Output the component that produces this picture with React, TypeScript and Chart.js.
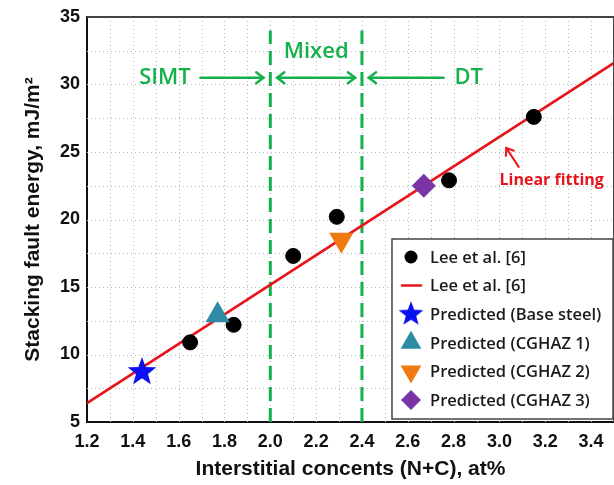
import React, { useEffect, useRef } from "react";
import { Chart, registerables } from "chart.js";
import { drawPoint } from "chart.js/helpers";

Chart.register(...registerables);

// ---- data ----
const leeX = [1.65, 1.84, 2.1, 2.29, 2.78, 3.15];
const leeY = [10.9, 12.2, 17.3, 20.2, 22.9, 27.6];
const fitX = [1.2, 3.5];
const fitY = [6.4, 31.6];
const predLabels = [
  "Predicted (Base steel)",
  "Predicted (CGHAZ 1)",
  "Predicted (CGHAZ 2)",
  "Predicted (CGHAZ 3)",
];
const predX = [1.44, 1.77, 2.31, 2.67];
const predY = [8.7, 12.9, 18.5, 22.5];
const boundaryX = [2.0, 2.4];
const boundaryY = [5, 34];
const regionLabels = ["SIMT", "Mixed", "DT"];
const xRange = [1.2, 3.5];
const yRange = [5, 35];
const xStep = 0.1;
const yStep = 2.5;
const xTitle = "Interstitial concents (N+C), at%";
const yTitle = "Stacking fault energy, mJ/m\u00B2";
const fitLabel = "Linear fitting";
const leeLabel = "Lee et al. [6]";

// ---- styles ----
const GREEN = "#14b04c";
const RED = "#e8141c";
const predColors = ["#0a10f0", "#2f8aa3", "#f07a12", "#7a34a8"];

function makeStar(R: number, color: string) {
  const c = document.createElement("canvas");
  const s = Math.ceil(R * 2 + 2);
  c.width = s;
  c.height = s;
  const ctx = c.getContext("2d")!;
  ctx.fillStyle = color;
  ctx.beginPath();
  for (let i = 0; i < 10; i++) {
    const r = i % 2 === 0 ? R : R * 0.42;
    const a = -Math.PI / 2 + (i * Math.PI) / 5;
    ctx.lineTo(s / 2 + r * Math.cos(a), s / 2 + r * Math.sin(a));
  }
  ctx.closePath();
  ctx.fill();
  return c;
}

function arrowHead(ctx: CanvasRenderingContext2D, x: number, y: number, ang: number, len: number) {
  ctx.beginPath();
  ctx.moveTo(x + len * Math.cos(ang + 2.5), y + len * Math.sin(ang + 2.5));
  ctx.lineTo(x, y);
  ctx.lineTo(x + len * Math.cos(ang - 2.5), y + len * Math.sin(ang - 2.5));
  ctx.stroke();
}

const gridPlugin = {
  id: "dottedGrid",
  beforeDatasetsDraw(chart: any) {
    const { ctx, chartArea } = chart;
    const xs = chart.scales.x;
    const ys = chart.scales.y;
    ctx.save();
    ctx.strokeStyle = "#b8b8b8";
    ctx.lineWidth = 1;
    ctx.setLineDash([1, 3]);
    xs.ticks.forEach((t: any) => {
      const x = Math.round(xs.getPixelForValue(t.value)) + 0.5;
      if (x <= chartArea.left + 2 || x >= chartArea.right - 2) return;
      ctx.beginPath();
      ctx.moveTo(x, chartArea.top);
      ctx.lineTo(x, chartArea.bottom);
      ctx.stroke();
    });
    ys.ticks.forEach((t: any) => {
      const y = Math.round(ys.getPixelForValue(t.value)) + 0.5;
      if (y <= chartArea.top + 2 || y >= chartArea.bottom - 2) return;
      ctx.beginPath();
      ctx.moveTo(chartArea.left, y);
      ctx.lineTo(chartArea.right, y);
      ctx.stroke();
    });
    ctx.restore();
  },
};

const annotationPlugin = {
  id: "annotations",
  afterDatasetsDraw(chart: any) {
    const { ctx, chartArea } = chart;
    const xs = chart.scales.x;
    const ys = chart.scales.y;
    const px = (v: number) => xs.getPixelForValue(v);
    const py = (v: number) => ys.getPixelForValue(v);
    ctx.save();
    // top & right frame
    ctx.strokeStyle = "#444";
    ctx.lineWidth = 2;
    ctx.beginPath();
    ctx.moveTo(chartArea.left, chartArea.top);
    ctx.lineTo(chartArea.right, chartArea.top);
    ctx.lineTo(chartArea.right, chartArea.bottom);
    ctx.stroke();

    // region labels
    ctx.fillStyle = GREEN;
    ctx.strokeStyle = GREEN;
    ctx.lineWidth = 2.5;
    ctx.lineCap = "round";
    ctx.font = "600 22px 'Open Sans'";
    ctx.textAlign = "center";
    ctx.textBaseline = "middle";
    const yArrow = py(30.5);
    ctx.fillText(regionLabels[0], px(1.54), yArrow);
    ctx.fillText(regionLabels[1], px(2.2), py(32.4));
    ctx.fillText(regionLabels[2], px(2.866), yArrow);
    // SIMT arrow ->
    ctx.beginPath();
    ctx.moveTo(px(1.695), yArrow);
    ctx.lineTo(px(1.97), yArrow);
    ctx.stroke();
    arrowHead(ctx, px(1.97), yArrow, 0, 9);
    // Mixed double arrow
    ctx.beginPath();
    ctx.moveTo(px(2.03), yArrow);
    ctx.lineTo(px(2.37), yArrow);
    ctx.stroke();
    arrowHead(ctx, px(2.03), yArrow, Math.PI, 9);
    arrowHead(ctx, px(2.37), yArrow, 0, 9);
    // DT arrow <-
    ctx.beginPath();
    ctx.moveTo(px(2.756), yArrow);
    ctx.lineTo(px(2.43), yArrow);
    ctx.stroke();
    arrowHead(ctx, px(2.43), yArrow, Math.PI, 9);

    // linear fitting
    ctx.fillStyle = RED;
    ctx.strokeStyle = RED;
    ctx.font = "bold 16px 'Open Sans'";
    ctx.fillText(fitLabel, px(3.228), py(22.9));
    const ax0 = px(3.084), ay0 = py(23.9), ax1 = px(3.03), ay1 = py(25.3);
    ctx.lineWidth = 2;
    ctx.beginPath();
    ctx.moveTo(ax0, ay0);
    ctx.lineTo(ax1, ay1);
    ctx.stroke();
    arrowHead(ctx, ax1, ay1, Math.atan2(ay1 - ay0, ax1 - ax0), 8);

    // legend
    const lx = 392, ly = 239, lw = chartArea.right - 392 - 1, lh = 180;
    ctx.fillStyle = "#fff";
    ctx.fillRect(lx, ly, lw, lh);
    ctx.strokeStyle = "#444";
    ctx.lineWidth = 1.5;
    ctx.strokeRect(lx, ly, lw, lh);
    const items = chart.data.datasets.filter((d: any) => d.inLegend);
    ctx.font = "600 16.5px 'Open Sans'";
    ctx.textAlign = "left";
    ctx.textBaseline = "middle";
    items.forEach((d: any, i: number) => {
      const y = 257 + i * 28.6;
      const mx = 411;
      if (d.showLine) {
        ctx.strokeStyle = d.borderColor;
        ctx.lineWidth = 2.5;
        ctx.beginPath();
        ctx.moveTo(mx - 9, y);
        ctx.lineTo(mx + 10, y);
        ctx.stroke();
      } else {
        ctx.fillStyle = d.backgroundColor;
        ctx.strokeStyle = d.backgroundColor;
        drawPoint(ctx, {
          pointStyle: d.legendPointStyle || d.pointStyle,
          rotation: d.rotation || 0,
          radius: d.legendRadius,
          borderWidth: 0,
        } as any, mx, y);
      }
      ctx.fillStyle = "#1a1a1a";
      ctx.fillText(d.label, 430, y + 1);
    });
    ctx.restore();
  },
};

export default function App() {
  const ref = useRef<HTMLCanvasElement>(null);
  useEffect(() => {
    const star = makeStar(15, predColors[0]);
    const starSmall = makeStar(13, predColors[0]);
    const predStyles: any[] = [
      { pointStyle: star, legendStyle: starSmall, radius: 15, legendRadius: 13, rotation: 0 },
      { pointStyle: "triangle", radius: 14, legendRadius: 12, rotation: 0 },
      { pointStyle: "triangle", radius: 14, legendRadius: 12, rotation: 180 },
      { pointStyle: "rectRot", radius: 12, legendRadius: 10, rotation: 0 },
    ];
    const datasets: any[] = [
      {
        label: leeLabel,
        data: leeX.map((x, i) => ({ x, y: leeY[i] })),
        backgroundColor: "#000",
        borderColor: "#000",
        pointStyle: "circle",
        pointRadius: 7.5,
        legendRadius: 6.5,
        inLegend: true,
        order: 1,
      },
      {
        label: leeLabel,
        data: fitX.map((x, i) => ({ x, y: fitY[i] })),
        showLine: true,
        borderColor: RED,
        borderWidth: 2.5,
        pointRadius: 0,
        inLegend: true,
        order: 5,
      },
      ...predLabels.map((label, i) => ({
        label,
        data: [{ x: predX[i], y: predY[i] }],
        backgroundColor: predColors[i],
        borderColor: predColors[i],
        borderWidth: 0,
        pointStyle: predStyles[i].pointStyle,
        legendPointStyle: predStyles[i].legendStyle,
        pointRadius: predStyles[i].radius,
        rotation: predStyles[i].rotation,
        pointRotation: predStyles[i].rotation,
        legendRadius: predStyles[i].legendRadius,
        inLegend: true,
        order: 0,
      })),
      ...boundaryX.map((bx) => ({
        label: "boundary",
        data: boundaryY.map((y) => ({ x: bx, y })),
        showLine: true,
        borderColor: GREEN,
        borderWidth: 3,
        borderDash: [14, 7],
        pointRadius: 0,
        inLegend: false,
        order: 6,
      })),
    ];

    const tickFont = () => ({ family: "'Liberation Sans', Arial", size: 18, weight: "bold" });
    const titleFont = () => ({ family: "'Liberation Sans', Arial", size: 21, weight: "bold" });
    const chart = new Chart(ref.current!, {
      type: "scatter",
      data: { datasets },
      options: {
        animation: false,
        responsive: false,
        layout: { autoPadding: false, padding: { top: 17, right: -3, left: 0, bottom: 0 } },
        plugins: { legend: { display: false }, tooltip: { enabled: false } },
        scales: {
          x: {
            type: "linear",
            min: xRange[0],
            max: xRange[1],
            afterFit(s: any) {
              s.height = 63;
              s.paddingRight = 0;
              s.paddingLeft = 0;
            },
            ticks: {
              stepSize: xStep,
              autoSkip: false,
              maxRotation: 0,
              padding: 9,
              color: "#111",
              font: tickFont(),
              callback: (v: any) => (Math.round(Number(v) * 10) % 2 === 0 ? Number(v).toFixed(1) : ""),
            },
            grid: { display: false, drawTicks: false },
            border: { display: true, color: "#111", width: 2 },
            title: {
              display: true,
              text: xTitle,
              color: "#111",
              font: titleFont(),
              padding: { top: 0, bottom: 3 },
            },
          },
          y: {
            type: "linear",
            min: yRange[0],
            max: yRange[1],
            afterFit(s: any) {
              s.width = 87;
              s.paddingTop = 0;
              s.paddingBottom = 0;
            },
            ticks: {
              stepSize: yStep,
              autoSkip: false,
              padding: 7,
              color: "#111",
              font: tickFont(),
              callback: (v: any) => (Number(v) % 5 === 0 ? String(v) : ""),
            },
            grid: { display: false, drawTicks: false },
            border: { display: true, color: "#111", width: 2 },
            title: {
              display: true,
              text: yTitle,
              color: "#111",
              font: titleFont(),
              padding: { top: 21, bottom: 0 },
            },
          },
        },
      } as any,
      plugins: [gridPlugin, annotationPlugin],
    });
    return () => chart.destroy();
  }, []);
  return (
    <div style={{ position: "fixed", left: 0, top: 0, width: 614, height: 485 }}>
      <canvas ref={ref} width={614} height={485} style={{ display: "block", width: 614, height: 485 }} />
    </div>
  );
}
